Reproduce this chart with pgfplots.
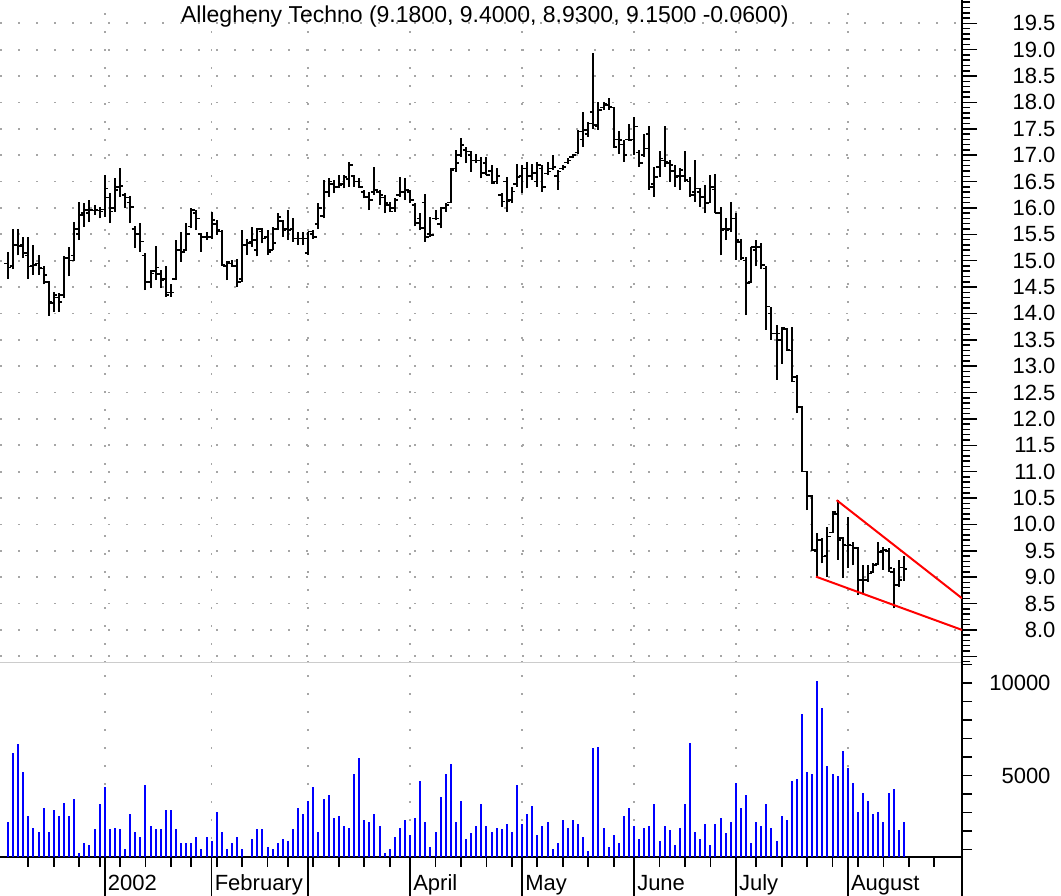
\documentclass[border=0pt]{standalone}
\usepackage{fontspec}
\setmainfont{Liberation Sans}
\usepackage{pgfplots}
\usepackage{pgfplotstable}
\pgfplotsset{compat=1.18}

% open tick to the left, close tick to the right
\pgfdeclareplotmark{otick}{\pgfpathmoveto{\pgfqpoint{-3.5pt}{0pt}}\pgfpathlineto{\pgfqpoint{0.5pt}{0pt}}\pgfusepathqstroke}
\pgfdeclareplotmark{ctick}{\pgfpathmoveto{\pgfqpoint{-0.5pt}{0pt}}\pgfpathlineto{\pgfqpoint{3.5pt}{0pt}}\pgfusepathqstroke}

% daily bars, index 0 = first session shown
\pgfplotstableread{
i o h l c
0 14.95 15.17 14.65 14.87
1 14.90 15.60 14.85 15.30
2 15.30 15.60 15.10 15.28
3 15.30 15.45 15.05 15.14
4 15.10 15.45 14.65 14.89
5 14.90 15.30 14.73 14.92
6 14.95 15.10 14.73 14.86
7 14.85 14.89 14.55 14.73
8 14.60 14.62 13.96 14.22
9 14.20 14.41 14.03 14.35
10 14.30 14.38 14.03 14.22
11 14.35 15.08 14.30 15.05
12 15.05 15.25 14.70 15.00
13 15.10 15.74 15.00 15.60
14 15.50 16.12 15.39 15.87
15 15.90 16.10 15.64 15.96
16 15.90 16.15 15.74 15.96
17 15.95 16.06 15.87 15.97
18 15.95 16.02 15.80 15.93
19 15.97 16.62 15.83 16.37
20 16.20 16.28 15.71 15.93
21 16.00 16.56 15.93 16.34
22 16.40 16.75 16.21 16.42
23 16.25 16.28 15.99 16.20
24 16.10 16.23 15.71 16.02
25 15.60 15.65 15.24 15.50
26 15.50 15.71 15.17 15.36
27 15.10 15.14 14.44 14.60
28 14.60 14.82 14.48 14.76
29 14.80 15.27 14.63 14.87
30 14.75 14.82 14.48 14.63
31 14.65 14.89 14.32 14.35
32 14.40 14.55 14.32 14.40
33 14.65 15.39 14.63 15.20
34 15.20 15.55 14.98 15.17
35 15.20 15.71 15.20 15.50
36 15.65 15.99 15.61 15.96
37 15.90 15.96 15.58 15.80
38 15.50 15.52 15.17 15.45
39 15.45 15.55 15.39 15.45
40 15.45 15.93 15.42 15.77
41 15.70 15.77 15.49 15.58
42 15.55 15.58 14.92 14.92
43 14.90 14.98 14.63 14.98
44 14.95 15.01 14.89 14.90
45 14.90 15.04 14.51 14.60
46 14.65 15.58 14.60 15.30
47 15.30 15.42 15.11 15.33
48 15.35 15.64 15.26 15.39
49 15.20 15.61 15.08 15.60
50 15.55 15.61 15.33 15.42
51 15.45 15.58 15.11 15.17
52 15.20 15.64 15.20 15.33
53 15.60 15.90 15.58 15.83
54 15.75 15.77 15.45 15.58
55 15.60 15.96 15.39 15.58
56 15.60 15.80 15.36 15.42
57 15.42 15.55 15.30 15.42
58 15.42 15.55 15.30 15.42
59 15.15 15.55 15.11 15.55
60 15.50 15.58 15.42 15.45
61 15.70 16.09 15.60 16.00
62 15.85 16.53 15.80 16.30
63 16.30 16.56 16.21 16.50
64 16.45 16.53 16.28 16.40
65 16.40 16.62 16.38 16.44
66 16.45 16.62 16.37 16.59
67 16.55 16.88 16.40 16.81
68 16.60 16.62 16.40 16.50
69 16.50 16.56 16.38 16.40
70 16.30 16.34 16.18 16.21
71 16.20 16.31 15.96 16.15
72 16.30 16.78 16.25 16.34
73 16.30 16.34 16.06 16.25
74 16.20 16.24 15.90 16.09
75 16.05 16.12 15.93 15.93
76 16.00 16.18 15.93 16.15
77 16.25 16.59 16.21 16.30
78 16.30 16.56 16.15 16.34
79 16.30 16.34 16.09 16.15
80 16.05 16.09 15.65 15.71
81 15.80 15.90 15.58 15.62
82 16.10 16.26 15.36 15.45
83 15.50 15.83 15.45 15.49
84 15.80 15.96 15.77 15.80
85 15.70 16.00 15.61 16.00
86 16.00 16.09 15.93 16.05
87 16.10 16.75 16.10 16.72
88 16.75 17.10 16.69 16.85
89 17.00 17.32 16.97 17.19
90 17.10 17.16 16.85 17.07
91 17.00 17.07 16.69 16.90
92 16.90 17.03 16.85 16.90
93 16.90 16.97 16.56 16.66
94 16.85 16.97 16.62 16.62
95 16.70 16.81 16.47 16.47
96 16.50 16.75 16.45 16.60
97 16.25 16.28 16.02 16.12
98 16.50 16.59 15.93 16.12
99 16.15 16.40 16.09 16.31
100 16.45 16.84 16.40 16.59
101 16.60 16.81 16.28 16.75
102 16.75 16.88 16.37 16.60
103 16.60 16.84 16.53 16.66
104 16.50 16.88 16.40 16.81
105 16.75 16.81 16.31 16.40
106 16.65 16.88 16.62 16.69
107 16.75 17.00 16.72 16.78
108 16.60 16.72 16.34 16.69
109 16.75 16.81 16.72 16.78
110 16.86 16.94 16.84 16.90
111 16.96 17.03 16.94 17.00
112 17.05 17.48 17.03 17.45
113 17.30 17.82 17.16 17.48
114 17.40 17.63 17.35 17.60
115 17.82 18.93 17.50 17.57
116 17.55 18.00 17.48 17.86
117 17.90 18.00 17.86 17.98
118 17.95 18.08 17.86 17.92
119 17.90 17.92 17.16 17.16
120 17.30 17.45 17.03 17.29
121 17.20 17.29 16.88 17.00
122 17.30 17.60 17.29 17.29
123 17.30 17.73 17.00 17.54
124 17.05 17.10 16.78 16.85
125 17.00 17.41 16.97 17.13
126 17.40 17.55 16.34 16.40
127 16.45 16.78 16.21 16.59
128 16.78 17.07 16.59 16.94
129 16.90 17.55 16.78 16.88
130 16.85 16.91 16.50 16.81
131 16.70 16.81 16.40 16.59
132 16.60 16.75 16.34 16.72
133 16.60 17.07 16.50 16.53
134 16.50 16.59 16.21 16.25
135 16.30 16.91 16.12 16.37
136 16.30 16.37 16.02 16.21
137 16.20 16.43 15.90 16.09
138 16.10 16.62 16.09 16.40
139 16.35 16.65 15.90 15.90
140 15.90 16.02 15.10 15.58
141 15.60 15.80 15.39 15.58
142 15.60 16.12 15.55 15.80
143 15.80 15.90 15.01 15.39
144 15.35 15.42 15.01 15.05
145 15.00 15.07 13.97 14.58
146 14.60 15.26 14.57 15.26
147 15.20 15.39 14.89 15.26
148 15.25 15.33 14.85 14.92
149 14.85 14.90 13.69 14.13
150 14.00 14.13 13.50 13.62
151 13.62 13.78 12.74 13.62
152 13.50 13.75 13.05 13.72
153 13.70 13.72 13.31 13.31
154 13.30 13.75 12.71 12.71
155 12.80 12.83 12.11 12.23
156 12.23 12.23 11.00 11.00
157 11.00 11.00 10.27 10.54
158 10.54 10.54 9.50 9.52
159 9.50 9.83 9.00 9.70
160 9.70 9.75 9.26 9.39
161 9.40 9.96 9.01 9.77
162 9.85 10.24 9.83 10.24
163 10.20 10.46 9.33 9.70
164 9.74 9.77 8.98 9.61
165 9.60 10.15 9.17 9.61
166 9.60 9.67 9.23 9.55
167 9.55 9.55 8.66 8.95
168 8.95 9.23 8.70 8.95
169 8.95 9.23 8.91 9.07
170 9.10 9.26 9.10 9.23
171 9.25 9.67 9.23 9.48
172 9.50 9.58 9.14 9.51
173 9.50 9.55 9.10 9.17
174 9.10 9.17 8.41 8.85
175 8.85 9.33 8.82 8.95
176 9.18 9.40 8.93 9.15
}\ohlc
\pgfplotstablecreatecol[expr={\thisrow{h}-\thisrow{l}}]{r}{\ohlc}

% volume, hundreds of shares
\pgfplotstableread{
i v
0 2503
1 6233
2 6684
3 5207
4 2811
5 2180
6 1964
7 3225
8 1964
9 3117
10 2811
11 3531
12 2811
13 3748
14 829
15 1351
16 1243
17 2090
18 3441
19 4378
20 2090
21 2180
22 2090
23 1027
24 2919
25 1964
26 1657
27 4486
28 2288
29 2090
30 2090
31 3117
32 3117
33 2090
34 1351
35 1351
36 1351
37 1657
38 1027
39 1657
40 1459
41 3009
42 1964
43 1027
44 1351
45 1657
46 1027
47 613
48 1550
49 2090
50 2090
51 1135
52 1027
53 1351
54 1550
55 1459
56 2090
57 3225
58 2919
59 3639
60 4378
61 1964
62 3748
63 3946
64 2684
65 2811
66 2288
67 2180
68 5099
69 5927
70 2594
71 2503
72 2919
73 2288
74 829
75 1027
76 1657
77 2180
78 2594
79 1766
80 2703
81 4685
82 2503
83 1135
84 1964
85 3856
86 5099
87 5621
88 2503
89 3639
90 1550
91 1874
92 2288
93 3441
94 2288
95 1964
96 2180
97 2090
98 2396
99 1964
100 4486
101 2396
102 2919
103 3333
104 1766
105 2288
106 2503
107 1027
108 1351
109 2594
110 2180
111 2594
112 2396
113 1657
114 937
115 6468
116 6558
117 2180
118 1135
119 1766
120 1351
121 2811
122 3225
123 2288
124 1550
125 2180
126 2288
127 3441
128 1459
129 2288
130 2072
131 1243
132 2180
133 3441
134 6775
135 1964
136 1550
137 2396
138 1243
139 2396
140 2684
141 1874
142 2503
143 4576
144 3225
145 3946
146 1351
147 2503
148 2288
149 3441
150 2180
151 1459
152 2811
153 2594
154 4685
155 4792
156 8324
157 5207
158 5099
159 10107
160 8630
161 5513
162 5099
163 4991
164 6342
165 5423
166 4576
167 3009
168 4036
169 3621
170 2901
171 3009
172 2469
173 4036
174 4252
175 2054
176 2469
}\vol

\pgfplotsset{
  panel/.style={
    scale only axis, width=962pt, anchor=south west,
    xmin=-1.57, xmax=187.43,
    tick label style={font=\fontsize{22}{26}\selectfont},
    /pgf/number format/assume math mode=true,
    grid style={draw=black!35, line width=1.8pt, dash pattern=on 1.8pt off 16.2pt},
    axis line style={-},
    tick align=outside,
  },
}

\begin{document}
\begin{tikzpicture}
\path[use as bounding box] (0,0) rectangle (1061pt,896pt);

% price panel
\begin{axis}[panel, at={(0pt,233pt)}, height=663pt,
  ymin=7.373, ymax=19.942,
  axis x line*=bottom, axis y line*=right,
  x axis line style={black!20, line width=1pt},
  y axis line style={black, line width=1.5pt},
  xtick={19,40,59,79,101,123,143,165}, xticklabels={},
  xtick style={draw=none},
  ytick={8,8.5,...,19.5},
  extra y ticks={7.5}, extra y tick labels={},
  minor ytick={7.4,7.5,...,19.95},
  major tick length=15pt, minor tick length=8pt,
  ytick style={black, line width=1.5pt},
  minor tick style={black, line width=1.5pt},
  yticklabel style={anchor=east, xshift=82pt,
    /pgf/number format/fixed, /pgf/number format/fixed zerofill,
    /pgf/number format/precision=1},
  xmajorgrids, ymajorgrids,
  title={Allegheny Techno (9.1800, 9.4000, 8.9300, 9.1500 -0.0600)},
  title style={at={(0.504,1)}, anchor=base, yshift=-29pt,
    font=\fontsize{23}{27}\selectfont},
]
% high-low range of each session
\addplot[draw=none, mark=none,
  error bars/.cd, y dir=plus, y explicit, error mark=none,
  error bar style={draw=black, solid, line width=2pt}]
  table[x=i, y=l, y error plus=r] {\ohlc};
\addplot[black, only marks, mark=otick, mark options={line width=1.6pt}]
  table[x=i, y=o] {\ohlc};
\addplot[black, only marks, mark=ctick, mark options={line width=1.6pt}]
  table[x=i, y=c] {\ohlc};
% converging trend lines
\addplot[red, line width=2pt] coordinates {(162.8,10.46) (187.43,8.60)};
\addplot[red, line width=2pt] coordinates {(158.74,9.01) (187.43,8.00)};
\end{axis}

% volume panel
\begin{axis}[panel, at={(0pt,39pt)}, height=194pt,
  ymin=595, ymax=11081,
  axis x line*=bottom, axis y line*=right,
  x axis line style={black, line width=1.5pt},
  y axis line style={black, line width=1.5pt},
  ytick=\empty,
  xtick={19,40,59,79,101,123,143,165,187.43},
  xticklabels={2002,February,,April,May,June,July,August,},
  minor xtick={4,9,14,18,22,27,32,36,41,46,51,55,60,65,70,75,84,89,94,99,104,109,114,119,128,133,138,147,152,157,162,167,172,177,182},
  major tick length=39pt, minor tick length=10pt,
  xtick style={black, line width=1.8pt},
  minor tick style={black, line width=1.8pt},
  xmajorgrids,
  xticklabel style={anchor=base west, inner sep=1pt, xshift=2pt, yshift=6pt},
]
\addplot[ycomb, blue, line width=2pt] table[x=i, y=v] {\vol};
\end{axis}

% volume scale on the right
\begin{axis}[panel, at={(0pt,39pt)}, height=194pt,
  ymin=595, ymax=11081,
  axis x line=none, axis y line*=right,
  y axis line style={black, line width=1.5pt},
  xtick=\empty,
  ytick={5000,10000}, minor ytick={1000,2000,...,11000},
  scaled y ticks=false,
  major tick length=10pt, minor tick length=10pt,
  ytick style={black, line width=1.5pt},
  minor tick style={black, line width=1.5pt},
  yticklabel style={anchor=east, xshift=82pt, /pgf/number format/1000 sep={}},
]
\end{axis}
\end{tikzpicture}
\end{document}
